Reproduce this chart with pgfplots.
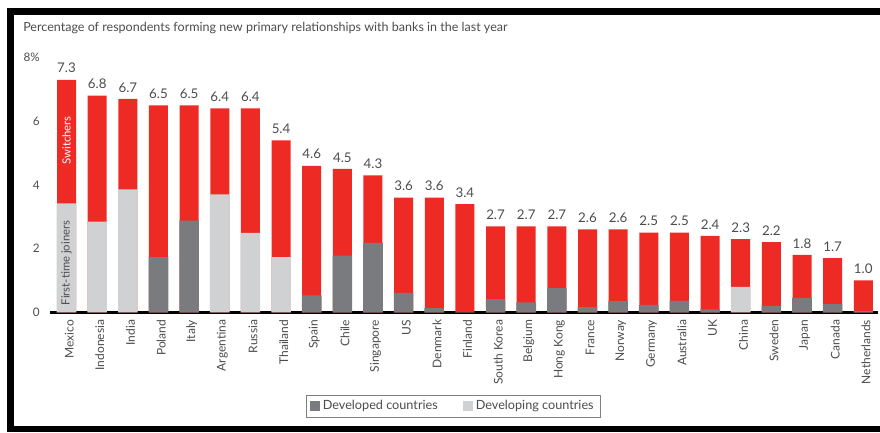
\documentclass[border=0pt]{standalone}
\usepackage{pgfplots}
\pgfplotsset{compat=1.18}
\usepackage{pgfplotstable}
\usepackage{fontspec}
\setmainfont{Lato}
\definecolor{bred}{HTML}{EE2A24}
\definecolor{dgray}{HTML}{7A7B7E}
\definecolor{lgray}{HTML}{D0D1D3}
\definecolor{tgray}{HTML}{4D4D4F}

\pgfplotstableread{
i dark light total
0  0    3.42 7.3
1  0    2.85 6.8
2  0    3.86 6.7
3  1.73 0    6.5
4  2.88 0    6.5
5  0    3.70 6.4
6  0    2.49 6.4
7  0    1.73 5.4
8  0.53 0    4.6
9  1.78 0    4.5
10 2.18 0    4.3
11 0.61 0    3.6
12 0.13 0    3.6
13 0    0    3.4
14 0.41 0    2.7
15 0.31 0    2.7
16 0.76 0    2.7
17 0.16 0    2.6
18 0.35 0    2.6
19 0.23 0    2.5
20 0.36 0    2.5
21 0.09 0    2.4
22 0    0.80 2.3
23 0.20 0    2.2
24 0.45 0    1.8
25 0.26 0    1.7
26 0.04 0    1.0
}\data

\begin{document}
\begin{tikzpicture}
\fill[white] (0,0) rectangle (660pt,324pt);
\useasboundingbox (0,0) rectangle (660pt,324pt);
% frame
\fill[black] (5.25pt,0pt) rectangle (10.5pt,318pt);
\fill[black] (5.25pt,312.75pt) rectangle (660pt,318pt);
\fill[black] (5.25pt,0pt) rectangle (660pt,4.5pt);
% title
\node[anchor=base west, inner sep=0pt, font=\fontsize{9.4pt}{11pt}\selectfont, text=tgray] at (17.25pt,300pt)
  {Percentage of respondents forming new primary relationships with banks in the last year};
\begin{pgfinterruptboundingbox}
\begin{axis}[
  at={(37.5pt,89.775pt)}, anchor=south west,
  scale only axis, width=621pt, height=191.1pt,
  ybar, bar width=14.25pt,
  xmin=-0.54, xmax=26.48, ymin=0, ymax=8,
  enlargelimits=false, clip=false,
  axis x line=bottom, axis y line=left,
  axis line style={-},
  x axis line style={black, line width=2pt},
  y axis line style={draw=none},
  tick style={draw=none},
  /pgf/number format/assume math mode=true,
  ytick={0,2,4,6,8}, yticklabels={0,2,4,6,8\%},
  yticklabel style={font=\fontsize{8.8pt}{10pt}\selectfont, text=tgray, xshift=-2pt},
  xtick={0,...,26},
  xticklabels={Mexico,Indonesia,India,Poland,Italy,Argentina,Russia,Thailand,Spain,Chile,Singapore,US,Denmark,Finland,South Korea,Belgium,Hong Kong,France,Norway,Germany,Australia,UK,China,Sweden,Japan,Canada,Netherlands},
  xticklabel style={rotate=90, anchor=east, font=\fontsize{9pt}{10pt}\selectfont, text=tgray, yshift=-2pt},
  legend columns=2,
  legend style={at={(0.487,-0.368)}, anchor=center, draw=gray, line width=0.6pt,
    font=\fontsize{9.5pt}{11pt}\selectfont, text=tgray,
    /tikz/every even column/.append style={column sep=17pt}},
  legend image code/.code={\fill[#1] (0pt,-3.6pt) rectangle (7.5pt,3.9pt);},
]
\addplot[fill=bred, draw=none, bar shift=0pt, forget plot, point meta=explicit,
  nodes near coords={\pgfmathprintnumber[fixed,fixed zerofill,precision=1]{\pgfplotspointmeta}},
  every node near coord/.append style={font=\fontsize{10pt}{12pt}\selectfont, text=tgray, yshift=1.5pt}]
  table[x=i, y=total, meta=total] {\data};
\addplot[fill=dgray, draw=none, bar shift=0pt, bar width=14.7pt] table[x=i, y=dark] {\data};
\addplot[fill=lgray, draw=none, bar shift=0pt, bar width=14.7pt] table[x=i, y=light] {\data};
\legend{Developed countries, Developing countries}
\node[rotate=90, text=white, font=\fontsize{8.5pt}{9pt}\selectfont] at (axis cs:0,5.4) {Switchers};
\node[rotate=90, text=tgray, font=\fontsize{8.5pt}{9pt}\selectfont] at (axis cs:0,1.55) {First-time joiners};
\end{axis}
\end{pgfinterruptboundingbox}
\end{tikzpicture}
\end{document}
